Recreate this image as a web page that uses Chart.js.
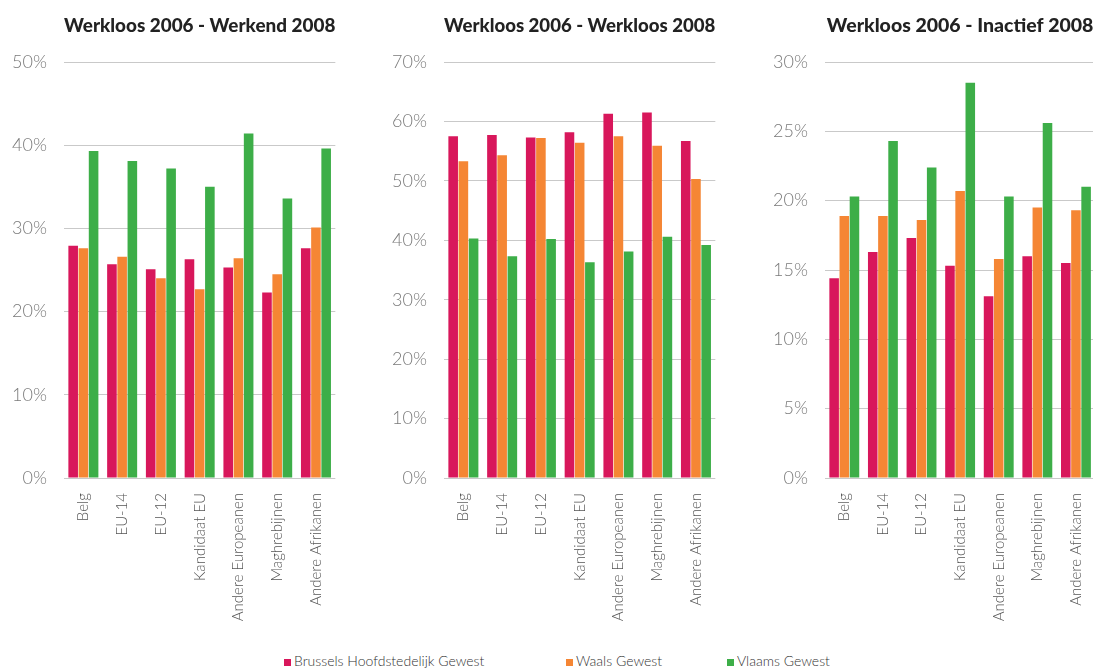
<!DOCTYPE html>
<html>
<head>
<meta charset="utf-8">
<script src="https://cdn.jsdelivr.net/npm/chart.js@4.4.0/dist/chart.umd.min.js"></script>
<style>
html,body{margin:0;padding:0;width:1093px;height:672px;overflow:hidden;background:#fff;}
canvas{position:absolute;top:0;}
#legend{position:absolute;left:0;top:652px;width:1093px;height:20px;font-family:Lato,"Open Sans",sans-serif;font-weight:300;font-size:14px;color:#333;}
.item{position:absolute;top:0;white-space:nowrap;line-height:18px;}
.sq{display:inline-block;width:7px;height:7px;margin-right:3px;vertical-align:baseline;}
</style>
</head>
<body>
<canvas id="c1" width="350" height="640" style="left:0px"></canvas>
<canvas id="c2" width="380" height="640" style="left:350px"></canvas>
<canvas id="c3" width="380" height="640" style="left:730px"></canvas>
<div id="legend"></div>
<script>
// ---- data ----
const categories = ['Belg','EU-14','EU-12','Kandidaat EU','Andere Europeanen','Maghrebijnen','Andere Afrikanen'];
const seriesNames = ['Brussels Hoofdstedelijk Gewest','Waals Gewest','Vlaams Gewest'];
const chartTitles = ['Werkloos 2006 - Werkend 2008','Werkloos 2006 - Werkloos 2008','Werkloos 2006 - Inactief 2008'];

const werkendBrussel = [27.9,25.7,25.1,26.3,25.3,22.3,27.6];
const werkendWaals   = [27.6,26.6,24.0,22.7,26.4,24.5,30.1];
const werkendVlaams  = [39.3,38.1,37.2,35.0,41.4,33.6,39.6];

const werkloosBrussel = [57.5,57.7,57.3,58.2,61.3,61.5,56.7];
const werkloosWaals   = [53.3,54.3,57.2,56.4,57.5,55.9,50.3];
const werkloosVlaams  = [40.3,37.3,40.2,36.3,38.1,40.6,39.2];

const inactiefBrussel = [14.4,16.3,17.3,15.3,13.1,16.0,15.5];
const inactiefWaals   = [18.9,18.9,18.6,20.7,15.8,19.5,19.3];
const inactiefVlaams  = [20.3,24.3,22.4,28.5,20.3,25.6,21.0];

const yMax = [50,70,30];
const yStep = [10,10,5];

// ---- styles ----
const colors = ['#D8175B','#F58634','#3DAE48'];
const FONT = 'Lato, "Open Sans", sans-serif';

function makeChart(id, title, data, max, step, yWidth, padRight){
  return new Chart(document.getElementById(id), {
    type:'bar',
    data:{
      labels:categories,
      datasets:data.map((d,i)=>({label:seriesNames[i],data:d,backgroundColor:colors[i],borderWidth:0,barPercentage:0.94,categoryPercentage:0.79}))
    },
    options:{
      responsive:false,
      animation:false,
      layout:{padding:{left:0,right:padRight,top:0,bottom:0}},
      plugins:{
        legend:{display:false},
        tooltip:{enabled:false},
        title:{display:true,text:title,fullSize:false,align:'center',color:'#222',
          font:{family:FONT,size:19.5,weight:'900'},padding:{top:14,bottom:24.6}}
      },
      scales:{
        x:{
          grid:{display:false,drawTicks:false},
          border:{display:false},
          ticks:{autoSkip:false,minRotation:90,maxRotation:90,padding:15,color:'#555',font:{family:FONT,size:15,weight:'300'}},
          afterFit(s){s.height=162;}
        },
        y:{
          min:0,max:max,
          grid:{color:'#c9c9c9',lineWidth:1,drawTicks:false},
          border:{display:false},
          ticks:{stepSize:step,padding:17,color:'#7a7a7a',font:{family:FONT,size:18,weight:'300'},callback:v=>v+'%'},
          afterFit(s){s.width=yWidth;}
        }
      }
    }
  });
}

makeChart('c1', chartTitles[0], [werkendBrussel,werkendWaals,werkendVlaams], yMax[0], yStep[0], 64, 10);
makeChart('c2', chartTitles[1], [werkloosBrussel,werkloosWaals,werkloosVlaams], yMax[1], yStep[1], 94, 10);
makeChart('c3', chartTitles[2], [inactiefBrussel,inactiefWaals,inactiefVlaams], yMax[2], yStep[2], 95, 8);

// ---- legend ----
const legendLeft = [284, 566, 727];
const lg = document.getElementById('legend');
seriesNames.forEach((n,i)=>{
  const it = document.createElement('div');
  it.className='item';
  it.style.left = legendLeft[i]+'px';
  const sq = document.createElement('span');
  sq.className='sq'; sq.style.background=colors[i];
  it.appendChild(sq);
  it.appendChild(document.createTextNode(n));
  lg.appendChild(it);
});
</script>
</body>
</html>
